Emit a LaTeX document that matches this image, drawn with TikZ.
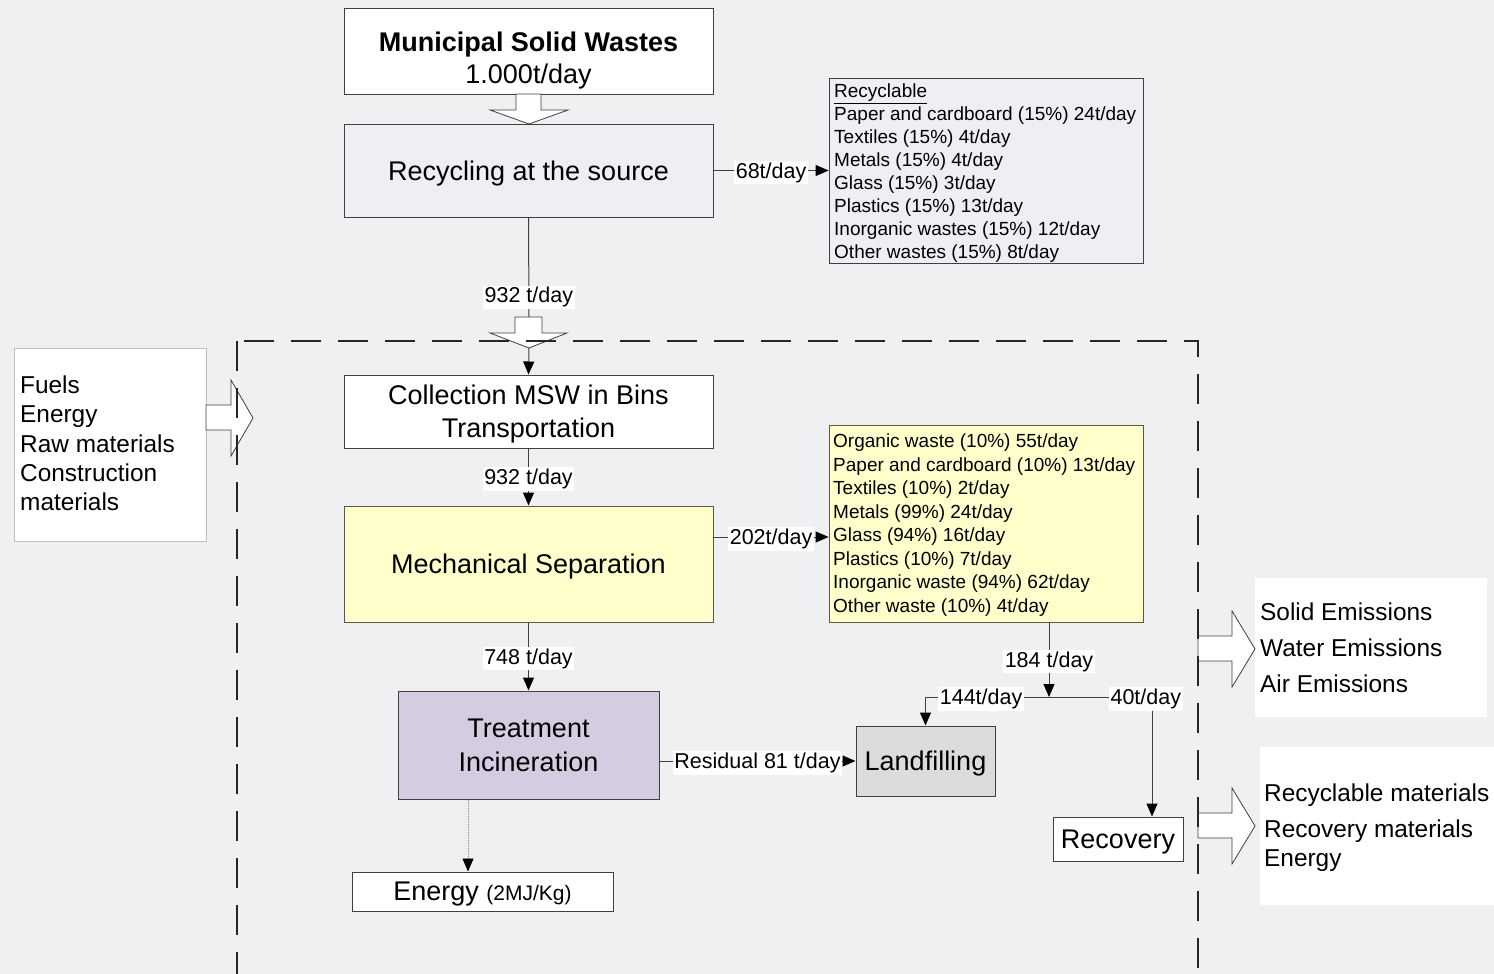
\documentclass[tikz,border=0pt]{standalone}
\usepackage{fontspec}
\setmainfont{Liberation Sans}
\usetikzlibrary{arrows.meta}
\definecolor{bg}{HTML}{F0F0F2}
\definecolor{bord}{HTML}{404040}
\definecolor{lav}{HTML}{EFEEF4}
\definecolor{yel}{HTML}{FFFFCC}
\definecolor{yelb}{HTML}{5A5A44}
\definecolor{treat}{HTML}{D4CCE0}
\definecolor{land}{HTML}{DCDCDC}
\tikzset{
  box/.style={draw=bord, line width=1pt, inner sep=0pt, align=center, text depth=0pt, font=\fontsize{27}{33}\selectfont},
  txt/.style={inner sep=0pt, align=left},
  lbl/.style={fill=white, inner sep=1.5pt, yshift=-2pt, font=\fontsize{21.5}{24}\selectfont},
  conn/.style={draw=bord, line width=1pt, -{Triangle[length=13pt,width=11pt,color=black]}},
  plainline/.style={draw=bord, line width=1pt},
  blockarr/.style={draw=bord, fill=white, line width=0.8pt, line join=miter},
  frame/.style={draw=black!85, line width=1.6pt, dash pattern=on 30pt off 17pt},
  whitebox/.style={fill=white, inner sep=0pt}
}
\begin{document}
\begin{tikzpicture}[x=1pt,y=-1pt]
\fill[bg] (0,0) rectangle (1494,974);
\useasboundingbox (0,0) rectangle (1494,974);

% side white boxes
\node[whitebox, draw=black!25, line width=0.8pt, minimum width=192pt, minimum height=193pt] (inbox) at (110,444.5) {};
\node[whitebox, minimum width=232pt, minimum height=139pt] (embox) at (1371,647.5) {};
\node[whitebox, minimum width=234pt, minimum height=158pt] (matbox) at (1377,826) {};

% main boxes
\node[box, fill=white, minimum width=369pt, minimum height=85pt] (msw) at (528.5,51.5) {};
\node[txt, align=center, font=\fontsize{27}{32}\selectfont] (mswt) at (528.5,61) {\textbf{Municipal Solid Wastes}\\1.000t/day};
\node[box, fill=lav, minimum width=369pt, minimum height=93pt] (recyc) at (528.5,170.5) {Recycling at the source};
\node[box, fill=lav, line width=0.8pt, minimum width=314pt, minimum height=185pt] (rlist) at (986,170.5) {};
\node[txt, anchor=west, font=\fontsize{19}{23}\selectfont] (rlistt) at (834,173) {\underline{Recyclable}\\Paper and cardboard (15\%) 24t/day\\Textiles (15\%) 4t/day\\Metals (15\%) 4t/day\\Glass (15\%) 3t/day\\Plastics (15\%) 13t/day\\Inorganic wastes (15\%) 12t/day\\Other wastes (15\%) 8t/day};

\node[box, fill=white, minimum width=369pt, minimum height=73pt] (coll) at (528.5,411.5) {Collection MSW in Bins\\Transportation};
\node[box, draw=yelb, fill=yel, minimum width=369pt, minimum height=116pt] (mech) at (528.5,564) {Mechanical Separation};
\node[box, draw=yelb, fill=yel, line width=0.8pt, minimum width=314pt, minimum height=197pt] (ylist) at (986,523.5) {};
\node[txt, anchor=west, font=\fontsize{19}{23.55}\selectfont] (ylistt) at (833,525) {Organic waste (10\%) 55t/day\\Paper and cardboard (10\%) 13t/day\\Textiles (10\%) 2t/day\\Metals (99\%) 24t/day\\Glass (94\%) 16t/day\\Plastics (10\%) 7t/day\\Inorganic waste (94\%) 62t/day\\Other waste (10\%) 4t/day};

\node[box, fill=treat, minimum width=261pt, minimum height=108pt, font=\fontsize{27}{34}\selectfont] (treat) at (528.5,745) {Treatment\\Incineration};
\node[box, fill=land, minimum width=139pt, minimum height=70pt] (landf) at (925.5,761) {Landfilling};
\node[box, fill=white, minimum width=130pt, minimum height=44pt] (recov) at (1118,839) {Recovery};
\node[box, fill=white, minimum width=261pt, minimum height=39pt] (energy) at (482.5,891.5) {Energy {\fontsize{21}{24}\selectfont(2MJ/Kg)}};

% side texts
\node[txt, anchor=west, font=\fontsize{24.4}{29.3}\selectfont] (intxt) at (20,443.5) {Fuels\\Energy\\Raw materials\\Construction\\materials};
\node[txt, anchor=west, font=\fontsize{24.4}{36}\selectfont] (emtxt) at (1260,648) {Solid Emissions\\Water Emissions\\Air Emissions};
\node[txt, anchor=west, font=\fontsize{24.4}{36}\selectfont] (mattxt) at (1264,828) {Recyclable materials\\Recovery materials\\[-7pt]Energy};

% block arrows
\draw[blockarr] (516,94) -- (541,94) -- (541,110) -- (568,110) -- (529,124) -- (490,110) -- (516,110) -- cycle;
\draw[blockarr] (515,317) -- (542,317) -- (542,333) -- (567,333) -- (529,348) -- (490,333) -- (515,333) -- cycle;
\draw[blockarr] (206,405) -- (231,405) -- (231,380) -- (253,418) -- (231,456) -- (231,430) -- (206,430) -- cycle;
\draw[blockarr] (1198,636) -- (1232,636) -- (1232,611) -- (1255,649) -- (1232,687) -- (1232,661) -- (1198,661) -- cycle;
\draw[blockarr] (1198,813) -- (1232,813) -- (1232,788) -- (1255,826) -- (1232,864) -- (1232,838) -- (1198,838) -- cycle;

% dashed frame
\draw[frame] (237,341) -- (237,974);
\draw[frame, dash phase=40pt] (237,341) -- (1198,341) -- (1198,974);

% connectors
\coordinate (a2top) at (529,317);
\coordinate (a2tip) at (529,348);
\draw[conn] (recyc.east) -- (rlist.west) node[lbl, midway] (l68) {68t/day};
\draw[plainline] (recyc.south) -- (a2top) node[lbl, pos=0.78] (l932a) {932 t/day};
\draw[conn] (a2tip) -- (coll.north);
\draw[conn] (coll.south) -- (mech.north) node[lbl, midway] (l932b) {932 t/day};
\draw[conn] ([yshift=27pt]mech.east) -- ([yshift=27pt]mech.east -| ylist.west) node[lbl, midway] (l202) {202t/day};
\draw[conn] (mech.south) -- (treat.north) node[lbl, midway] (l748) {748 t/day};
\draw[conn] (landf.west -| treat.east) -- (landf.west) node[lbl, midway] (l81) {Residual 81 t/day};
\coordinate (jn) at (1049,697);
\coordinate (rc) at (1152,697);
\coordinate (ed) at (468,0);
\draw[conn] (ylist.south -| jn) -- (jn) node[lbl, midway] (l184) {184 t/day};
\draw[conn] (jn) -- (landf.north |- jn) node[lbl, pos=0.55] (l144) {144t/day} -- (landf.north);
\draw[conn] (jn) -- (rc) node[lbl, pos=0.94] (l40) {40t/day} -- (recov.north -| rc);
\draw[conn, draw=black!45, densely dotted, line width=0.8pt] (treat.south -| ed) -- (energy.north -| ed);
\end{tikzpicture}
\end{document}
